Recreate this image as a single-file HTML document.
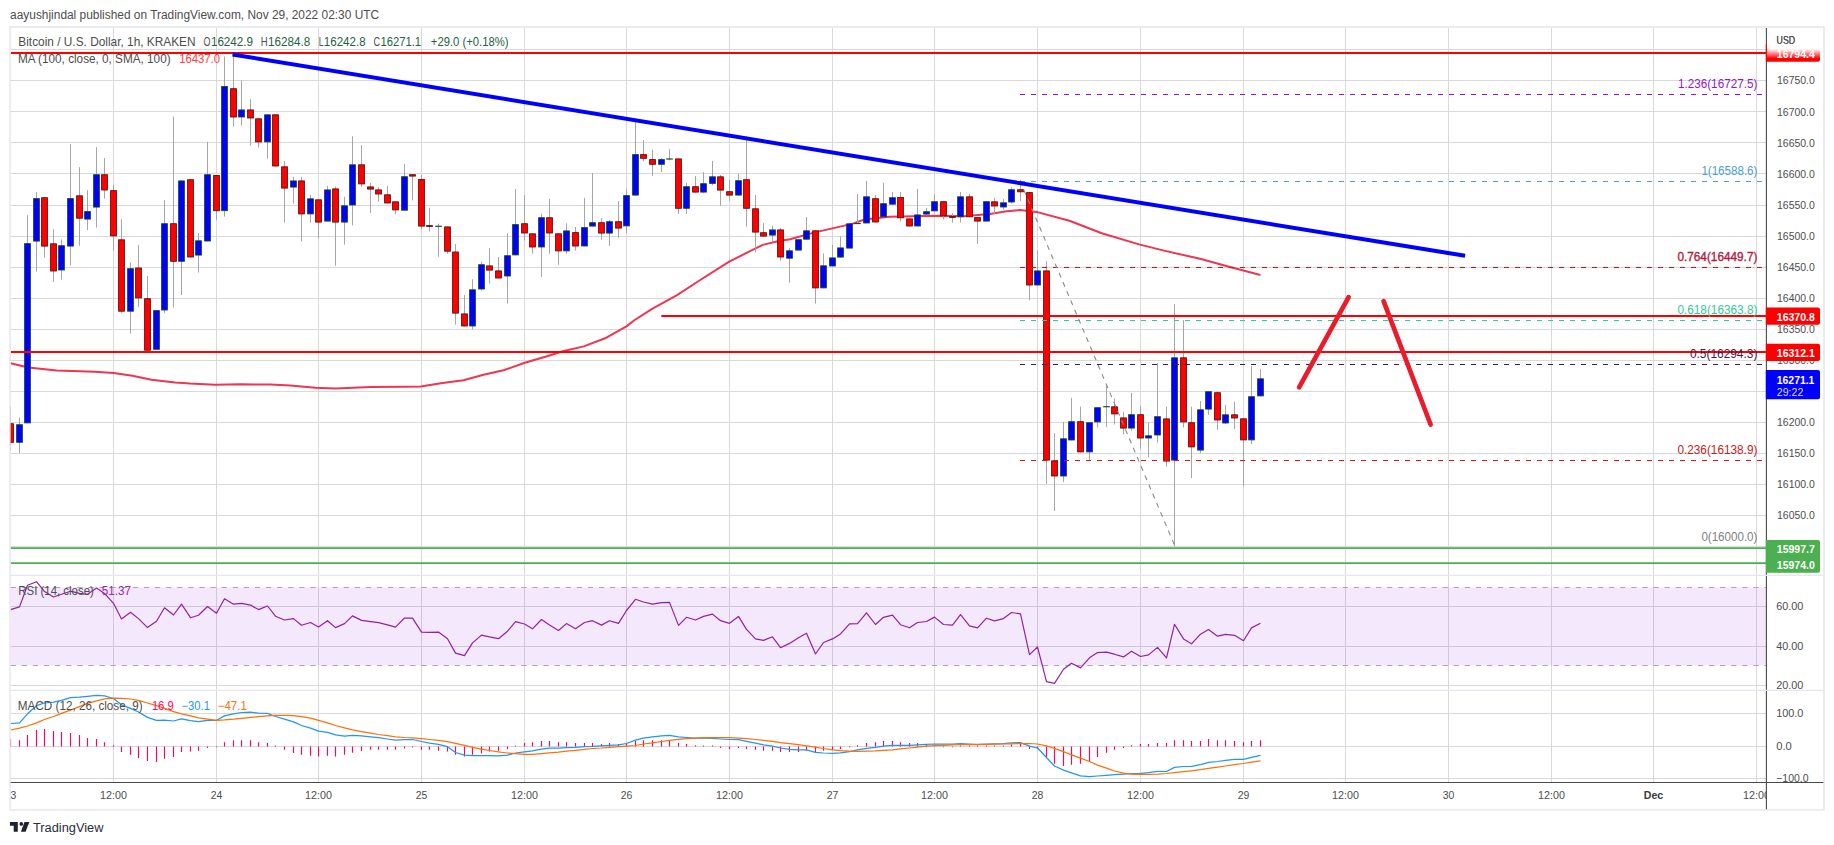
<!DOCTYPE html>
<html lang="en"><head><meta charset="utf-8"><title>BTCUSD chart - TradingView</title>
<style>html,body{margin:0;padding:0;background:#fff}body{width:1834px;height:845px;overflow:hidden}svg{display:block}</style></head>
<body>
<svg width="1834" height="845" viewBox="0 0 1834 845" font-family='"Liberation Sans", sans-serif' shape-rendering="auto">
<defs>
<clipPath id="cp"><rect x="10.7" y="27.9" width="1755.7" height="547.5"/></clipPath>
<clipPath id="cr"><rect x="10.7" y="575.4" width="1755.7" height="115.0"/></clipPath>
<clipPath id="cm"><rect x="10.7" y="690.4" width="1755.7" height="92.10000000000002"/></clipPath>
<clipPath id="ct"><rect x="10.7" y="782.5" width="1755.7" height="26.799999999999955"/></clipPath>
<clipPath id="ca"><rect x="1766.4" y="27.9" width="57.0" height="754.6"/></clipPath>
<linearGradient id="fade" x1="0" y1="0" x2="0" y2="1"><stop offset="0" stop-color="#fff" stop-opacity="1"/><stop offset="0.38" stop-color="#fff" stop-opacity="1"/><stop offset="1" stop-color="#fff" stop-opacity="0"/></linearGradient>
</defs>
<rect width="1834" height="845" fill="#fff"/>
<rect x="10.1" y="27" width="1813.9" height="782.9" fill="#fff" stroke="#ebecf3" stroke-width="1.9"/>
<path d="M113.5 27.9V782.5M216.5 27.9V782.5M318.5 27.9V782.5M421.5 27.9V782.5M524.5 27.9V782.5M626.5 27.9V782.5M729.5 27.9V782.5M832.5 27.9V782.5M934.5 27.9V782.5M1037.5 27.9V782.5M1140.5 27.9V782.5M1243.5 27.9V782.5M1345.5 27.9V782.5M1448.5 27.9V782.5M1551.5 27.9V782.5M1653.5 27.9V782.5M1756.5 27.9V782.5M10.7 546.5H1766.4M10.7 515.5H1766.4M10.7 484.5H1766.4M10.7 453.5H1766.4M10.7 422.5H1766.4M10.7 391.5H1766.4M10.7 360.5H1766.4M10.7 329.5H1766.4M10.7 298.5H1766.4M10.7 267.5H1766.4M10.7 236.5H1766.4M10.7 205.5H1766.4M10.7 173.5H1766.4M10.7 142.5H1766.4M10.7 111.5H1766.4M10.7 80.5H1766.4M10.7 49.5H1766.4M10.7 606.5H1766.4M10.7 646.5H1766.4M10.7 685.5H1766.4M10.7 713.5H1766.4M10.7 746.5H1766.4M10.7 778.5H1766.4" stroke="#d9d9d9" stroke-width="1" fill="none"/>
<g clip-path="url(#cp)">
<polyline points="10.6,363.2 28.4,367.5 56.8,370.5 94.7,371.7 113.6,372.9 132.5,375.7 151.5,379.8 175.1,382.4 190.0,383.6 215.1,384.8 240.2,384.3 270.3,384.6 290.3,385.6 315.4,387.8 335.5,388.6 353.0,387.8 370.6,387.1 403.2,386.8 420.8,386.6 440.8,383.3 463.4,380.3 483.5,374.8 503.5,370.3 524.8,362.7 546.2,356.5 563.7,351.0 583.8,346.4 606.4,337.7 626.4,326.4 634.7,320.0 652.1,308.8 677.0,295.1 701.8,279.0 729.2,261.6 749.0,251.7 762.7,244.9 778.9,241.0 790.0,239.3 814.9,232.4 852.1,223.9 864.6,219.5 889.4,216.7 939.1,215.7 964.0,216.2 983.8,214.5 990.0,214.1 1004.9,211.4 1019.8,210.1 1037.2,212.1 1069.5,220.8 1101.8,233.3 1139.1,244.4 1164.0,250.6 1200.0,258.8 1230.0,267.0 1260.4,275.0" stroke="#ee3552" stroke-width="2" fill="none" stroke-linejoin="round"/>
<path d="M10.5 406.5V450.8M19.5 417.6V453.1M27.5 215.3V423.3M36.5 192.0V271.6M44.5 197.3V257.6M53.5 229.2V282.0M61.5 239.4V279.6M70.5 144.0V265.4M79.5 167.2V245.8M87.5 190.2V230.0M96.5 147.1V227.6M104.5 158.0V198.7M113.5 185.0V250.8M121.5 219.3V312.8M130.5 262.4V333.6M138.5 245.1V306.9M147.5 276.1V350.6M156.5 310.2V349.7M164.5 200.1V312.8M173.5 116.6V307.6M181.5 180.5V295.0M190.5 179.3V257.4M198.5 233.0V272.5M207.5 142.0V241.4M216.5 175.1V219.8M224.5 56.6V216.6M233.5 53.2V126.6M241.5 80.4V125.6M250.5 99.3V145.7M258.5 118.4V147.5M267.5 114.4V158.7M275.5 114.4V166.4M284.5 161.1V222.8M293.5 176.8V203.6M301.5 176.8V241.4M310.5 194.9V222.8M318.5 199.4V238.4M327.5 186.0V221.5M335.5 186.7V265.8M344.5 196.7V244.6M352.5 136.3V225.3M361.5 145.2V186.7M370.5 183.0V212.8M378.5 187.2V201.6M387.5 186.0V203.4M395.5 201.4V214.1M404.5 164.1V210.6M412.5 174.3V200.4M421.5 174.8V229.5M429.5 207.8V231.5M438.5 223.7V256.8M447.5 226.5V253.8M455.5 243.9V324.6M464.5 295.1V326.4M472.5 279.2V329.6M481.5 261.8V290.8M489.5 248.1V283.6M498.5 257.0V278.4M507.5 233.2V303.5M515.5 189.0V255.3M524.5 195.2V240.6M532.5 233.4V253.8M541.5 213.8V276.7M549.5 199.1V253.8M558.5 233.4V264.8M566.5 223.3V253.8M575.5 227.0V250.6M584.5 197.9V246.4M592.5 173.1V226.5M601.5 218.1V239.7M609.5 220.0V245.9M618.5 201.0V238.0M626.5 189.0V233.0M635.5 118.7V195.5M643.5 140.1V160.9M652.5 149.8V175.9M661.5 158.0V172.1M669.5 149.0V160.4M678.5 158.5V213.9M686.5 182.8V213.9M695.5 175.9V192.5M703.5 172.1V193.3M712.5 160.9V185.3M720.5 175.0V205.7M729.5 180.1V200.7M738.5 173.9V195.5M746.5 136.1V226.8M755.5 195.0V252.4M763.5 223.1V236.5M772.5 225.6V241.7M780.5 228.0V260.8M789.5 247.9V282.7M798.5 239.3V250.5M806.5 217.0V239.6M815.5 230.4V303.5M823.5 253.5V288.3M832.5 244.8V266.4M840.5 236.4V257.5M849.5 223.4V248.5M857.5 193.9V224.0M866.5 180.9V223.4M875.5 195.1V222.4M883.5 182.7V217.2M892.5 192.1V204.6M900.5 192.1V221.5M909.5 218.5V226.4M917.5 188.9V226.4M926.5 207.8V215.7M934.5 194.6V211.3M943.5 201.3V219.5M952.5 213.3V222.7M960.5 192.1V222.7M969.5 193.9V217.2M977.5 217.2V243.8M986.5 201.3V221.5M994.5 197.9V214.0M1003.5 199.0V209.6M1011.5 187.3V203.4M1020.5 179.8V201.0M1029.5 192.2V300.3M1037.5 250.6V285.4M1046.5 261.1V484.1M1054.5 433.2V511.0M1063.5 422.0V482.1M1071.5 397.9V440.4M1080.5 406.6V452.3M1089.5 422.3V460.0M1097.5 407.3V427.5M1106.5 384.7V427.0M1114.5 398.4V424.5M1123.5 412.1V434.4M1131.5 392.9V430.7M1140.5 405.9V448.6M1148.5 422.5V457.5M1157.5 363.1V442.6M1166.5 406.6V466.7M1174.5 304.1V546.3M1183.5 320.2V427.5M1191.5 406.7V478.0M1200.5 401.0V453.2M1208.5 391.3V414.9M1217.5 391.3V429.9M1225.5 405.0V424.0M1234.5 401.8V429.1M1243.5 418.4V486.3M1251.5 366.2V444.0M1260.5 369.0V396.3" stroke="#a6a6a6" stroke-width="1" fill="none"/>
<rect x="7.60" y="423.7" width="5.8" height="18.6" fill="#ff0000" stroke="#5c0a08" stroke-width="0.85"/><rect x="16.60" y="424.7" width="5.8" height="17.6" fill="#0000ff" stroke="#174a1e" stroke-width="0.85"/><rect x="24.60" y="243.6" width="5.8" height="179.3" fill="#0000ff" stroke="#174a1e" stroke-width="0.85"/><rect x="33.60" y="198.6" width="5.8" height="42.5" fill="#0000ff" stroke="#174a1e" stroke-width="0.85"/><rect x="41.60" y="197.7" width="5.8" height="48.4" fill="#ff0000" stroke="#5c0a08" stroke-width="0.85"/><rect x="50.60" y="243.8" width="5.8" height="27.2" fill="#ff0000" stroke="#5c0a08" stroke-width="0.85"/><rect x="58.60" y="245.7" width="5.8" height="24.3" fill="#0000ff" stroke="#174a1e" stroke-width="0.85"/><rect x="67.60" y="198.6" width="5.8" height="47.5" fill="#0000ff" stroke="#174a1e" stroke-width="0.85"/><rect x="76.60" y="195.8" width="5.8" height="22.4" fill="#ff0000" stroke="#5c0a08" stroke-width="0.85"/><rect x="84.60" y="211.6" width="5.8" height="7.5" fill="#0000ff" stroke="#174a1e" stroke-width="0.85"/><rect x="93.60" y="174.7" width="5.8" height="32.4" fill="#0000ff" stroke="#174a1e" stroke-width="0.85"/><rect x="101.60" y="174.7" width="5.8" height="15.3" fill="#ff0000" stroke="#5c0a08" stroke-width="0.85"/><rect x="110.60" y="190.6" width="5.8" height="45.3" fill="#ff0000" stroke="#5c0a08" stroke-width="0.85"/><rect x="118.60" y="239.8" width="5.8" height="71.4" fill="#ff0000" stroke="#5c0a08" stroke-width="0.85"/><rect x="127.60" y="268.7" width="5.8" height="42.5" fill="#0000ff" stroke="#174a1e" stroke-width="0.85"/><rect x="135.60" y="268.0" width="5.8" height="29.9" fill="#ff0000" stroke="#5c0a08" stroke-width="0.85"/><rect x="144.60" y="298.7" width="5.8" height="51.5" fill="#ff0000" stroke="#5c0a08" stroke-width="0.85"/><rect x="153.60" y="310.6" width="5.8" height="38.7" fill="#0000ff" stroke="#174a1e" stroke-width="0.85"/><rect x="161.60" y="223.7" width="5.8" height="86.3" fill="#0000ff" stroke="#174a1e" stroke-width="0.85"/><rect x="170.60" y="223.7" width="5.8" height="37.6" fill="#ff0000" stroke="#5c0a08" stroke-width="0.85"/><rect x="178.60" y="180.9" width="5.8" height="80.4" fill="#0000ff" stroke="#174a1e" stroke-width="0.85"/><rect x="187.60" y="179.7" width="5.8" height="77.3" fill="#ff0000" stroke="#5c0a08" stroke-width="0.85"/><rect x="195.60" y="240.8" width="5.8" height="14.3" fill="#0000ff" stroke="#174a1e" stroke-width="0.85"/><rect x="204.60" y="174.7" width="5.8" height="66.3" fill="#0000ff" stroke="#174a1e" stroke-width="0.85"/><rect x="213.60" y="175.5" width="5.8" height="35.2" fill="#ff0000" stroke="#5c0a08" stroke-width="0.85"/><rect x="221.60" y="86.5" width="5.8" height="124.2" fill="#0000ff" stroke="#174a1e" stroke-width="0.85"/><rect x="230.60" y="88.7" width="5.8" height="28.3" fill="#ff0000" stroke="#5c0a08" stroke-width="0.85"/><rect x="238.60" y="109.9" width="5.8" height="7.1" fill="#0000ff" stroke="#174a1e" stroke-width="0.85"/><rect x="247.60" y="109.9" width="5.8" height="8.1" fill="#ff0000" stroke="#5c0a08" stroke-width="0.85"/><rect x="255.60" y="118.8" width="5.8" height="23.1" fill="#ff0000" stroke="#5c0a08" stroke-width="0.85"/><rect x="264.60" y="114.8" width="5.8" height="27.1" fill="#0000ff" stroke="#174a1e" stroke-width="0.85"/><rect x="272.60" y="114.8" width="5.8" height="51.2" fill="#ff0000" stroke="#5c0a08" stroke-width="0.85"/><rect x="281.60" y="166.8" width="5.8" height="21.3" fill="#ff0000" stroke="#5c0a08" stroke-width="0.85"/><rect x="290.60" y="180.9" width="5.8" height="6.2" fill="#0000ff" stroke="#174a1e" stroke-width="0.85"/><rect x="298.60" y="180.9" width="5.8" height="33.0" fill="#ff0000" stroke="#5c0a08" stroke-width="0.85"/><rect x="307.60" y="198.8" width="5.8" height="15.1" fill="#0000ff" stroke="#174a1e" stroke-width="0.85"/><rect x="315.60" y="199.8" width="5.8" height="22.3" fill="#ff0000" stroke="#5c0a08" stroke-width="0.85"/><rect x="324.60" y="189.9" width="5.8" height="31.2" fill="#0000ff" stroke="#174a1e" stroke-width="0.85"/><rect x="332.60" y="188.9" width="5.8" height="33.2" fill="#ff0000" stroke="#5c0a08" stroke-width="0.85"/><rect x="341.60" y="205.8" width="5.8" height="16.3" fill="#0000ff" stroke="#174a1e" stroke-width="0.85"/><rect x="349.60" y="164.8" width="5.8" height="40.2" fill="#0000ff" stroke="#174a1e" stroke-width="0.85"/><rect x="358.60" y="164.8" width="5.8" height="19.1" fill="#ff0000" stroke="#5c0a08" stroke-width="0.85"/><rect x="367.60" y="186.9" width="5.8" height="2.2" fill="#ff0000" stroke="#5c0a08" stroke-width="0.85"/><rect x="375.60" y="189.9" width="5.8" height="4.1" fill="#ff0000" stroke="#5c0a08" stroke-width="0.85"/><rect x="384.60" y="194.8" width="5.8" height="8.2" fill="#ff0000" stroke="#5c0a08" stroke-width="0.85"/><rect x="392.60" y="201.8" width="5.8" height="8.1" fill="#ff0000" stroke="#5c0a08" stroke-width="0.85"/><rect x="401.60" y="176.7" width="5.8" height="33.5" fill="#0000ff" stroke="#174a1e" stroke-width="0.85"/><rect x="409.60" y="174.7" width="5.8" height="1.4" fill="#ff0000" stroke="#5c0a08" stroke-width="0.85"/><rect x="418.60" y="179.4" width="5.8" height="46.7" fill="#ff0000" stroke="#5c0a08" stroke-width="0.85"/><rect x="426.60" y="225.6" width="5.8" height="0.8" fill="#ff0000" stroke="#5c0a08" stroke-width="0.85"/><rect x="435.20" y="225.7" width="6.6" height="1.2" fill="#1d4d2b"/><rect x="444.60" y="226.9" width="5.8" height="24.3" fill="#ff0000" stroke="#5c0a08" stroke-width="0.85"/><rect x="452.60" y="252.0" width="5.8" height="61.1" fill="#ff0000" stroke="#5c0a08" stroke-width="0.85"/><rect x="461.60" y="313.9" width="5.8" height="12.1" fill="#ff0000" stroke="#5c0a08" stroke-width="0.85"/><rect x="469.60" y="289.8" width="5.8" height="36.2" fill="#0000ff" stroke="#174a1e" stroke-width="0.85"/><rect x="478.60" y="264.7" width="5.8" height="24.3" fill="#0000ff" stroke="#174a1e" stroke-width="0.85"/><rect x="486.60" y="265.9" width="5.8" height="4.2" fill="#ff0000" stroke="#5c0a08" stroke-width="0.85"/><rect x="495.60" y="270.9" width="5.8" height="7.1" fill="#ff0000" stroke="#5c0a08" stroke-width="0.85"/><rect x="504.60" y="255.7" width="5.8" height="20.3" fill="#0000ff" stroke="#174a1e" stroke-width="0.85"/><rect x="512.60" y="224.6" width="5.8" height="30.3" fill="#0000ff" stroke="#174a1e" stroke-width="0.85"/><rect x="521.60" y="223.7" width="5.8" height="9.3" fill="#ff0000" stroke="#5c0a08" stroke-width="0.85"/><rect x="529.60" y="233.8" width="5.8" height="13.2" fill="#ff0000" stroke="#5c0a08" stroke-width="0.85"/><rect x="538.60" y="217.7" width="5.8" height="29.3" fill="#0000ff" stroke="#174a1e" stroke-width="0.85"/><rect x="546.60" y="217.7" width="5.8" height="15.3" fill="#ff0000" stroke="#5c0a08" stroke-width="0.85"/><rect x="555.60" y="233.8" width="5.8" height="17.1" fill="#ff0000" stroke="#5c0a08" stroke-width="0.85"/><rect x="563.60" y="230.9" width="5.8" height="20.0" fill="#0000ff" stroke="#174a1e" stroke-width="0.85"/><rect x="572.60" y="232.6" width="5.8" height="13.4" fill="#ff0000" stroke="#5c0a08" stroke-width="0.85"/><rect x="581.60" y="227.6" width="5.8" height="18.4" fill="#0000ff" stroke="#174a1e" stroke-width="0.85"/><rect x="589.60" y="222.7" width="5.8" height="3.4" fill="#0000ff" stroke="#174a1e" stroke-width="0.85"/><rect x="598.60" y="222.7" width="5.8" height="10.4" fill="#ff0000" stroke="#5c0a08" stroke-width="0.85"/><rect x="606.60" y="221.7" width="5.8" height="11.4" fill="#0000ff" stroke="#174a1e" stroke-width="0.85"/><rect x="615.60" y="221.7" width="5.8" height="6.4" fill="#ff0000" stroke="#5c0a08" stroke-width="0.85"/><rect x="623.60" y="195.6" width="5.8" height="30.3" fill="#0000ff" stroke="#174a1e" stroke-width="0.85"/><rect x="632.60" y="154.6" width="5.8" height="40.5" fill="#0000ff" stroke="#174a1e" stroke-width="0.85"/><rect x="640.60" y="154.6" width="5.8" height="3.7" fill="#ff0000" stroke="#5c0a08" stroke-width="0.85"/><rect x="649.60" y="159.6" width="5.8" height="4.7" fill="#ff0000" stroke="#5c0a08" stroke-width="0.85"/><rect x="658.60" y="159.6" width="5.8" height="4.7" fill="#0000ff" stroke="#174a1e" stroke-width="0.85"/><rect x="666.20" y="158.4" width="6.6" height="1.2" fill="#1d4d2b"/><rect x="675.60" y="158.9" width="5.8" height="49.4" fill="#ff0000" stroke="#5c0a08" stroke-width="0.85"/><rect x="683.60" y="186.7" width="5.8" height="21.6" fill="#0000ff" stroke="#174a1e" stroke-width="0.85"/><rect x="692.60" y="186.7" width="5.8" height="5.4" fill="#ff0000" stroke="#5c0a08" stroke-width="0.85"/><rect x="700.60" y="183.7" width="5.8" height="8.4" fill="#0000ff" stroke="#174a1e" stroke-width="0.85"/><rect x="709.60" y="176.8" width="5.8" height="6.6" fill="#0000ff" stroke="#174a1e" stroke-width="0.85"/><rect x="717.60" y="176.8" width="5.8" height="13.3" fill="#ff0000" stroke="#5c0a08" stroke-width="0.85"/><rect x="726.60" y="191.7" width="5.8" height="3.4" fill="#ff0000" stroke="#5c0a08" stroke-width="0.85"/><rect x="735.60" y="180.7" width="5.8" height="14.4" fill="#0000ff" stroke="#174a1e" stroke-width="0.85"/><rect x="743.60" y="179.7" width="5.8" height="28.6" fill="#ff0000" stroke="#5c0a08" stroke-width="0.85"/><rect x="752.60" y="208.8" width="5.8" height="23.3" fill="#ff0000" stroke="#5c0a08" stroke-width="0.85"/><rect x="760.60" y="232.7" width="5.8" height="3.4" fill="#ff0000" stroke="#5c0a08" stroke-width="0.85"/><rect x="769.60" y="229.9" width="5.8" height="5.2" fill="#0000ff" stroke="#174a1e" stroke-width="0.85"/><rect x="777.60" y="229.9" width="5.8" height="27.1" fill="#ff0000" stroke="#5c0a08" stroke-width="0.85"/><rect x="786.60" y="250.8" width="5.8" height="7.4" fill="#0000ff" stroke="#174a1e" stroke-width="0.85"/><rect x="795.60" y="239.7" width="5.8" height="10.4" fill="#0000ff" stroke="#174a1e" stroke-width="0.85"/><rect x="803.60" y="230.8" width="5.8" height="8.4" fill="#0000ff" stroke="#174a1e" stroke-width="0.85"/><rect x="812.60" y="230.8" width="5.8" height="57.1" fill="#ff0000" stroke="#5c0a08" stroke-width="0.85"/><rect x="820.60" y="265.8" width="5.8" height="22.1" fill="#0000ff" stroke="#174a1e" stroke-width="0.85"/><rect x="829.60" y="257.9" width="5.8" height="8.1" fill="#0000ff" stroke="#174a1e" stroke-width="0.85"/><rect x="837.60" y="247.9" width="5.8" height="9.2" fill="#0000ff" stroke="#174a1e" stroke-width="0.85"/><rect x="846.60" y="223.8" width="5.8" height="24.3" fill="#0000ff" stroke="#174a1e" stroke-width="0.85"/><rect x="854.20" y="222.9" width="6.6" height="1.2" fill="#1d4d2b"/><rect x="863.60" y="196.8" width="5.8" height="26.2" fill="#0000ff" stroke="#174a1e" stroke-width="0.85"/><rect x="872.60" y="198.7" width="5.8" height="23.3" fill="#ff0000" stroke="#5c0a08" stroke-width="0.85"/><rect x="880.60" y="203.7" width="5.8" height="13.1" fill="#0000ff" stroke="#174a1e" stroke-width="0.85"/><rect x="889.60" y="197.7" width="5.8" height="6.5" fill="#0000ff" stroke="#174a1e" stroke-width="0.85"/><rect x="897.60" y="197.5" width="5.8" height="20.3" fill="#ff0000" stroke="#5c0a08" stroke-width="0.85"/><rect x="906.60" y="218.9" width="5.8" height="7.1" fill="#ff0000" stroke="#5c0a08" stroke-width="0.85"/><rect x="914.60" y="214.9" width="5.8" height="11.1" fill="#0000ff" stroke="#174a1e" stroke-width="0.85"/><rect x="923.60" y="211.7" width="5.8" height="2.4" fill="#0000ff" stroke="#174a1e" stroke-width="0.85"/><rect x="931.60" y="201.7" width="5.8" height="9.2" fill="#0000ff" stroke="#174a1e" stroke-width="0.85"/><rect x="940.60" y="201.7" width="5.8" height="14.1" fill="#ff0000" stroke="#5c0a08" stroke-width="0.85"/><rect x="949.60" y="216.6" width="5.8" height="0.8" fill="#ff0000" stroke="#5c0a08" stroke-width="0.85"/><rect x="957.60" y="196.8" width="5.8" height="20.0" fill="#0000ff" stroke="#174a1e" stroke-width="0.85"/><rect x="966.60" y="196.8" width="5.8" height="20.0" fill="#ff0000" stroke="#5c0a08" stroke-width="0.85"/><rect x="974.60" y="217.6" width="5.8" height="3.5" fill="#ff0000" stroke="#5c0a08" stroke-width="0.85"/><rect x="983.60" y="201.7" width="5.8" height="19.4" fill="#0000ff" stroke="#174a1e" stroke-width="0.85"/><rect x="991.60" y="201.8" width="5.8" height="4.2" fill="#ff0000" stroke="#5c0a08" stroke-width="0.85"/><rect x="1000.60" y="202.8" width="5.8" height="4.2" fill="#0000ff" stroke="#174a1e" stroke-width="0.85"/><rect x="1008.60" y="189.7" width="5.8" height="12.3" fill="#0000ff" stroke="#174a1e" stroke-width="0.85"/><rect x="1017.60" y="189.7" width="5.8" height="2.1" fill="#ff0000" stroke="#5c0a08" stroke-width="0.85"/><rect x="1026.60" y="192.6" width="5.8" height="92.4" fill="#ff0000" stroke="#5c0a08" stroke-width="0.85"/><rect x="1034.60" y="270.9" width="5.8" height="14.1" fill="#0000ff" stroke="#174a1e" stroke-width="0.85"/><rect x="1043.60" y="270.9" width="5.8" height="189.2" fill="#ff0000" stroke="#5c0a08" stroke-width="0.85"/><rect x="1051.60" y="460.9" width="5.8" height="15.1" fill="#ff0000" stroke="#5c0a08" stroke-width="0.85"/><rect x="1060.60" y="438.8" width="5.8" height="37.2" fill="#0000ff" stroke="#174a1e" stroke-width="0.85"/><rect x="1068.60" y="421.7" width="5.8" height="18.3" fill="#0000ff" stroke="#174a1e" stroke-width="0.85"/><rect x="1077.60" y="421.7" width="5.8" height="30.2" fill="#ff0000" stroke="#5c0a08" stroke-width="0.85"/><rect x="1086.60" y="422.7" width="5.8" height="29.2" fill="#0000ff" stroke="#174a1e" stroke-width="0.85"/><rect x="1094.60" y="407.7" width="5.8" height="14.2" fill="#0000ff" stroke="#174a1e" stroke-width="0.85"/><rect x="1103.20" y="406.1" width="6.6" height="1.2" fill="#1d4d2b"/><rect x="1111.60" y="406.8" width="5.8" height="7.1" fill="#ff0000" stroke="#5c0a08" stroke-width="0.85"/><rect x="1120.60" y="417.9" width="5.8" height="10.2" fill="#ff0000" stroke="#5c0a08" stroke-width="0.85"/><rect x="1128.60" y="414.7" width="5.8" height="13.4" fill="#0000ff" stroke="#174a1e" stroke-width="0.85"/><rect x="1137.60" y="414.7" width="5.8" height="23.3" fill="#ff0000" stroke="#5c0a08" stroke-width="0.85"/><rect x="1145.60" y="435.8" width="5.8" height="2.2" fill="#0000ff" stroke="#174a1e" stroke-width="0.85"/><rect x="1154.60" y="416.7" width="5.8" height="18.3" fill="#0000ff" stroke="#174a1e" stroke-width="0.85"/><rect x="1163.60" y="418.9" width="5.8" height="42.2" fill="#ff0000" stroke="#5c0a08" stroke-width="0.85"/><rect x="1171.60" y="357.8" width="5.8" height="102.3" fill="#0000ff" stroke="#174a1e" stroke-width="0.85"/><rect x="1180.60" y="357.8" width="5.8" height="64.1" fill="#ff0000" stroke="#5c0a08" stroke-width="0.85"/><rect x="1188.60" y="422.7" width="5.8" height="24.2" fill="#ff0000" stroke="#5c0a08" stroke-width="0.85"/><rect x="1197.60" y="409.8" width="5.8" height="40.3" fill="#0000ff" stroke="#174a1e" stroke-width="0.85"/><rect x="1205.60" y="391.7" width="5.8" height="17.4" fill="#0000ff" stroke="#174a1e" stroke-width="0.85"/><rect x="1214.60" y="392.7" width="5.8" height="27.3" fill="#ff0000" stroke="#5c0a08" stroke-width="0.85"/><rect x="1222.60" y="414.8" width="5.8" height="8.2" fill="#0000ff" stroke="#174a1e" stroke-width="0.85"/><rect x="1231.60" y="414.8" width="5.8" height="3.2" fill="#ff0000" stroke="#5c0a08" stroke-width="0.85"/><rect x="1240.60" y="418.8" width="5.8" height="21.1" fill="#ff0000" stroke="#5c0a08" stroke-width="0.85"/><rect x="1248.60" y="396.7" width="5.8" height="43.2" fill="#0000ff" stroke="#174a1e" stroke-width="0.85"/><rect x="1257.60" y="378.8" width="5.8" height="17.1" fill="#0000ff" stroke="#174a1e" stroke-width="0.85"/>
<path d="M1020 94.5H1764" stroke="#9415cf" stroke-width="1.15" stroke-dasharray="5 6" fill="none"/>
<path d="M1020 181.5H1764" stroke="#4aa0d5" stroke-width="1.15" stroke-dasharray="5 6" fill="none"/>
<path d="M1020 267.5H1764" stroke="#ff0000" stroke-width="1.15" stroke-dasharray="5 6" fill="none"/>
<path d="M1020 320.5H1764" stroke="#2ecc96" stroke-width="1.15" stroke-dasharray="5 6" fill="none"/>
<path d="M1020 364.5H1764" stroke="#4b1941" stroke-width="1.15" stroke-dasharray="5 6" fill="none"/>
<path d="M1020 460.5H1764" stroke="#cc1a1a" stroke-width="1.15" stroke-dasharray="5 6" fill="none"/>
<path d="M1020 180.8L1175 546.3" stroke="#8a8a8a" stroke-width="1.1" stroke-dasharray="5 5" fill="none"/>
<path d="M10.7 53H1766.4M10.7 352H1766.4M661.3 316H1766.4" stroke="#ff0000" stroke-width="2" fill="none"/>
<path d="M10.7 548.1H1766.4M10.7 563.1H1766.4" stroke="#4caf50" stroke-width="1.8" fill="none"/>
<path d="M232.5 54.5L1465.1 255.8" stroke="#0000ff" stroke-width="4" fill="none"/>
<path d="M1299.1 387.3L1348.6 297.1M1383.6 301.1L1430.6 424.5" stroke="#ea1c2c" stroke-width="4.7" stroke-linecap="round" fill="none"/>
<text x="1757.4" y="88.0" font-size="12" fill="#9415cf" text-anchor="end" textLength="79.5" lengthAdjust="spacingAndGlyphs">1.236(16727.5)</text>
<text x="1757.4" y="175.0" font-size="12" fill="#4aa0d5" text-anchor="end" textLength="56" lengthAdjust="spacingAndGlyphs">1(16588.6)</text>
<text x="1757.4" y="261.0" font-size="12" fill="#cf1434" stroke="#a0204a" stroke-width="0.35" text-anchor="end" textLength="80" lengthAdjust="spacingAndGlyphs">0.764(16449.7)</text>
<text x="1757.4" y="314.0" font-size="12" fill="#2ecc96" text-anchor="end" textLength="80" lengthAdjust="spacingAndGlyphs">0.618(16363.8)</text>
<text x="1757.4" y="358.0" font-size="12" fill="#4b1941" text-anchor="end" textLength="67.5" lengthAdjust="spacingAndGlyphs">0.5(16294.3)</text>
<text x="1757.4" y="454.0" font-size="12" fill="#cc1a1a" text-anchor="end" textLength="80" lengthAdjust="spacingAndGlyphs">0.236(16138.9)</text>
<text x="1757.4" y="541.1" font-size="12" fill="#808080" text-anchor="end" textLength="56" lengthAdjust="spacingAndGlyphs">0(16000.0)</text>
</g>
<g clip-path="url(#cr)">
<rect x="10.7" y="587.4" width="1755.7" height="78.1" fill="#9119eb" fill-opacity="0.1"/>
<path d="M10.7 587.4H1766.4M10.7 665.4H1766.4" stroke="#aea3b6" stroke-width="1.05" stroke-dasharray="5.2 5.9" fill="none"/>
<polyline points="10.5,609.6 19.5,606.9 27.5,585.3 36.5,581.7 44.5,591.6 53.5,597.0 61.5,594.3 70.5,591.2 79.5,593.4 87.5,594.3 96.5,588.0 104.5,593.4 113.5,603.3 121.5,618.9 130.5,612.3 138.5,618.6 147.5,627.6 156.5,621.3 164.5,607.8 173.5,615.0 181.5,604.2 190.5,617.7 198.5,615.3 207.5,606.5 216.5,613.2 224.5,598.8 233.5,604.2 241.5,603.3 250.5,605.1 258.5,609.6 267.5,606.0 275.5,616.2 284.5,620.0 293.5,618.6 301.5,625.2 310.5,622.5 318.5,627.0 327.5,620.7 335.5,627.6 344.5,623.6 352.5,615.9 361.5,620.4 370.5,621.6 378.5,622.7 387.5,624.9 395.5,627.2 404.5,618.0 412.5,618.2 421.5,632.1 429.5,632.4 438.5,632.1 447.5,638.7 455.5,653.1 464.5,655.6 472.5,642.9 481.5,635.1 489.5,636.9 498.5,638.7 507.5,631.2 515.5,621.6 524.5,624.0 532.5,628.8 541.5,619.5 549.5,624.9 558.5,630.5 566.5,623.6 575.5,628.7 584.5,622.5 592.5,620.7 601.5,625.1 609.5,620.7 618.5,623.4 626.5,610.5 635.5,599.3 643.5,602.0 652.5,604.2 661.5,602.7 669.5,602.4 678.5,625.4 686.5,617.3 695.5,620.0 703.5,616.4 712.5,614.1 720.5,620.7 729.5,623.3 738.5,616.4 746.5,629.4 755.5,638.9 763.5,640.4 772.5,636.8 780.5,647.7 789.5,643.4 798.5,637.8 806.5,633.2 815.5,654.0 823.5,642.5 832.5,638.9 840.5,633.9 849.5,623.8 857.5,623.6 866.5,612.8 875.5,624.5 883.5,617.3 892.5,615.2 900.5,624.7 909.5,627.8 917.5,622.5 926.5,621.5 934.5,617.1 943.5,624.5 952.5,625.1 960.5,614.6 969.5,625.8 977.5,627.9 986.5,618.2 994.5,620.9 1003.5,618.6 1011.5,612.5 1020.5,613.9 1029.5,654.6 1037.5,647.0 1046.5,681.6 1054.5,683.4 1063.5,669.3 1071.5,663.2 1080.5,667.9 1089.5,657.8 1097.5,652.6 1106.5,652.2 1114.5,654.2 1123.5,656.9 1131.5,651.2 1140.5,656.5 1148.5,654.9 1157.5,647.4 1166.5,657.8 1174.5,624.3 1183.5,638.9 1191.5,643.8 1200.5,634.2 1208.5,629.6 1217.5,636.2 1225.5,634.4 1234.5,635.3 1243.5,640.7 1251.5,627.9 1260.5,623.3" stroke="#9321a3" stroke-width="1.2" fill="none" stroke-linejoin="round"/>
</g>
<g clip-path="url(#cm)">
<path d="M10.5 746.4V739.0M19.5 746.4V740.2M27.5 746.4V735.0M36.5 746.4V730.0M44.5 746.4V729.1M53.5 746.4V731.1M61.5 746.4V732.1M70.5 746.4V733.0M79.5 746.4V735.0M87.5 746.4V738.1M96.5 746.4V739.0M104.5 746.4V742.2M113.5 746.4V745.3M121.5 746.4V751.9M130.5 746.4V754.8M138.5 746.4V757.9M147.5 746.4V760.9M156.5 746.4V762.0M164.5 746.4V758.8M173.5 746.4V757.0M181.5 746.4V751.9M190.5 746.4V751.6M198.5 746.4V750.7M207.5 746.4V748.0M216.5 746.4V747.3M224.5 746.4V742.2M233.5 746.4V740.2M241.5 746.4V740.2M250.5 746.4V740.2M258.5 746.4V742.2M267.5 746.4V743.1M275.5 746.4V745.5M284.5 746.4V749.8M293.5 746.4V753.0M301.5 746.4V754.8M310.5 746.4V755.7M318.5 746.4V756.6M327.5 746.4V755.7M335.5 746.4V756.6M344.5 746.4V754.8M352.5 746.4V752.8M361.5 746.4V750.9M370.5 746.4V749.8M378.5 746.4V749.8M387.5 746.4V749.8M395.5 746.4V749.8M404.5 746.4V748.5M412.5 746.4V747.6M421.5 746.4V749.8M429.5 746.4V749.8M438.5 746.4V750.7M447.5 746.4V751.6M455.5 746.4V754.8M464.5 746.4V756.6M472.5 746.4V754.8M481.5 746.4V753.4M489.5 746.4V751.6M498.5 746.4V750.7M507.5 746.4V748.9M515.5 746.4V745.5M524.5 746.4V743.1M532.5 746.4V742.2M541.5 746.4V741.1M549.5 746.4V741.1M558.5 746.4V742.2M566.5 746.4V742.2M575.5 746.4V743.1M584.5 746.4V743.1M592.5 746.4V743.1M601.5 746.4V744.0M609.5 746.4V743.1M618.5 746.4V744.0M626.5 746.4V743.1M635.5 746.4V741.1M643.5 746.4V740.2M652.5 746.4V740.2M661.5 746.4V740.2M669.5 746.4V740.2M678.5 746.4V743.1M686.5 746.4V744.0M695.5 746.4V745.3M703.5 746.4V745.5M712.5 746.4V745.5M720.5 746.4V748.0M729.5 746.4V748.9M738.5 746.4V748.0M746.5 746.4V748.9M755.5 746.4V749.8M763.5 746.4V750.7M772.5 746.4V750.7M780.5 746.4V751.9M789.5 746.4V751.9M798.5 746.4V751.9M806.5 746.4V750.7M815.5 746.4V752.5M823.5 746.4V750.7M832.5 746.4V749.8M840.5 746.4V748.9M849.5 746.4V747.3M857.5 746.4V745.3M866.5 746.4V743.1M875.5 746.4V742.2M883.5 746.4V741.1M892.5 746.4V741.1M900.5 746.4V742.2M909.5 746.4V743.1M917.5 746.4V743.1M926.5 746.4V744.9M934.5 746.4V745.5M943.5 746.4V747.3M952.5 746.4V747.3M960.5 746.4V745.5M969.5 746.4V745.5M977.5 746.4V745.5M986.5 746.4V745.5M994.5 746.4V745.5M1003.5 746.4V745.5M1011.5 746.4V744.4M1020.5 746.4V743.7M1029.5 746.4V748.9M1037.5 746.4V749.1M1046.5 746.4V757.0M1054.5 746.4V763.8M1063.5 746.4V766.0M1071.5 746.4V764.7M1080.5 746.4V763.8M1089.5 746.4V760.9M1097.5 746.4V757.0M1106.5 746.4V752.8M1114.5 746.4V749.8M1123.5 746.4V748.0M1131.5 746.4V745.3M1140.5 746.4V744.0M1148.5 746.4V744.0M1157.5 746.4V743.1M1166.5 746.4V743.1M1174.5 746.4V740.2M1183.5 746.4V740.2M1191.5 746.4V741.1M1200.5 746.4V741.1M1208.5 746.4V739.0M1217.5 746.4V740.2M1225.5 746.4V740.2M1234.5 746.4V741.1M1243.5 746.4V742.2M1251.5 746.4V741.1M1260.5 746.4V740.2" stroke="#ff0066" stroke-width="1.15" fill="none"/>
<polyline points="10.5,723.5 19.5,722.8 27.5,713.8 36.5,705.7 44.5,703.0 53.5,702.1 61.5,700.3 70.5,697.6 79.5,697.1 87.5,696.3 96.5,695.4 104.5,695.8 113.5,698.5 121.5,704.8 130.5,708.4 138.5,712.0 147.5,717.4 156.5,720.4 164.5,720.1 173.5,721.0 181.5,718.8 190.5,720.6 198.5,721.7 207.5,720.3 216.5,720.3 224.5,715.9 233.5,713.8 241.5,712.5 250.5,712.2 258.5,713.2 267.5,713.4 275.5,716.5 284.5,719.2 293.5,721.9 301.5,725.5 310.5,728.2 318.5,731.2 327.5,732.3 335.5,734.8 344.5,736.1 352.5,735.4 361.5,735.9 370.5,736.8 378.5,737.7 387.5,739.0 395.5,740.2 404.5,739.7 412.5,739.5 421.5,741.5 429.5,743.1 438.5,744.4 447.5,746.7 455.5,752.5 464.5,755.2 472.5,755.7 481.5,755.7 489.5,755.7 498.5,755.9 507.5,755.2 515.5,753.0 524.5,751.8 532.5,750.9 541.5,749.1 549.5,748.2 558.5,748.2 566.5,747.6 575.5,747.4 584.5,746.7 592.5,746.4 601.5,745.8 609.5,745.3 618.5,744.9 626.5,743.5 635.5,740.2 643.5,738.1 652.5,736.8 661.5,735.9 669.5,735.4 678.5,736.8 686.5,737.5 695.5,738.1 703.5,738.1 712.5,738.4 720.5,739.0 729.5,739.5 738.5,739.7 746.5,741.3 755.5,743.1 763.5,744.9 772.5,746.2 780.5,748.0 789.5,749.4 798.5,749.8 806.5,749.8 815.5,752.3 823.5,753.0 832.5,753.4 840.5,752.8 849.5,751.6 857.5,749.8 866.5,748.3 875.5,747.4 883.5,746.2 892.5,745.3 900.5,745.3 909.5,745.3 917.5,744.9 926.5,744.4 934.5,744.0 943.5,744.0 952.5,744.0 960.5,743.7 969.5,744.0 977.5,744.4 986.5,744.0 994.5,743.8 1003.5,743.7 1011.5,742.9 1020.5,742.6 1029.5,746.2 1037.5,748.0 1046.5,757.5 1054.5,766.0 1063.5,770.1 1071.5,772.8 1080.5,775.9 1089.5,776.6 1097.5,776.0 1106.5,775.3 1114.5,774.6 1123.5,774.1 1131.5,773.7 1140.5,773.3 1148.5,772.6 1157.5,771.4 1166.5,771.5 1174.5,767.4 1183.5,766.5 1191.5,766.3 1200.5,764.7 1208.5,762.4 1217.5,761.5 1225.5,760.4 1234.5,759.3 1243.5,759.3 1251.5,757.3 1260.5,755.4" stroke="#2196f3" stroke-width="1.25" fill="none" stroke-linejoin="round"/>
<polyline points="10.5,730.0 19.5,728.2 27.5,726.0 36.5,722.8 44.5,719.5 53.5,716.5 61.5,713.4 70.5,710.2 79.5,706.6 87.5,703.4 96.5,700.8 104.5,698.9 113.5,698.1 121.5,698.3 130.5,699.0 138.5,700.3 147.5,703.0 156.5,705.7 164.5,708.4 173.5,711.6 181.5,713.8 190.5,715.9 198.5,717.9 207.5,719.2 216.5,720.3 224.5,719.9 233.5,719.2 241.5,718.3 250.5,717.4 258.5,716.7 267.5,715.9 275.5,715.4 284.5,715.4 293.5,715.6 301.5,716.7 310.5,718.1 318.5,720.4 327.5,722.8 335.5,725.5 344.5,727.8 352.5,729.8 361.5,731.6 370.5,733.2 378.5,734.5 387.5,735.7 395.5,736.8 404.5,737.5 412.5,737.9 421.5,738.6 429.5,739.5 438.5,740.4 447.5,741.7 455.5,743.3 464.5,745.3 472.5,747.3 481.5,749.1 489.5,750.5 498.5,751.9 507.5,753.0 515.5,753.7 524.5,754.3 532.5,754.3 541.5,753.6 549.5,752.8 558.5,752.1 566.5,751.2 575.5,750.3 584.5,749.4 592.5,748.5 601.5,748.0 609.5,747.3 618.5,746.7 626.5,746.2 635.5,745.5 643.5,744.0 652.5,742.8 661.5,741.5 669.5,740.4 678.5,739.3 686.5,738.6 695.5,738.1 703.5,737.7 712.5,737.5 720.5,737.5 729.5,737.7 738.5,738.1 746.5,738.6 755.5,739.5 763.5,740.4 772.5,741.3 780.5,742.6 789.5,743.7 798.5,744.7 806.5,745.8 815.5,747.1 823.5,748.5 832.5,749.8 840.5,750.7 849.5,751.2 857.5,751.4 866.5,751.2 875.5,750.9 883.5,750.3 892.5,749.8 900.5,748.9 909.5,748.0 917.5,747.1 926.5,746.2 934.5,745.6 943.5,745.3 952.5,744.9 960.5,744.6 969.5,744.6 977.5,744.6 986.5,744.4 994.5,744.2 1003.5,744.0 1011.5,743.8 1020.5,743.5 1029.5,743.5 1037.5,744.0 1046.5,745.8 1054.5,748.3 1063.5,751.6 1071.5,754.8 1080.5,758.2 1089.5,761.5 1097.5,765.1 1106.5,768.1 1114.5,771.0 1123.5,773.2 1131.5,774.1 1140.5,774.4 1148.5,774.4 1157.5,774.1 1166.5,773.5 1174.5,772.6 1183.5,771.7 1191.5,770.8 1200.5,769.6 1208.5,768.3 1217.5,767.2 1225.5,766.0 1234.5,764.7 1243.5,763.5 1251.5,762.2 1260.5,760.9" stroke="#ff6f0a" stroke-width="1.25" fill="none" stroke-linejoin="round"/>
</g>
<text x="10.1" y="18.8" font-size="12" fill="#4d4d4d" textLength="369" lengthAdjust="spacingAndGlyphs">aayushjindal published on TradingView.com, Nov 29, 2022 02:30 UTC</text>
<text x="18.3" y="45.6" font-size="12" fill="#4d4d4d" textLength="177.3" lengthAdjust="spacingAndGlyphs">Bitcoin / U.S. Dollar, 1h, KRAKEN</text>
<text x="203.5" y="45.6" font-size="12" fill="#4d4d4d" textLength="6.9" lengthAdjust="spacingAndGlyphs">O</text>
<text x="210.9" y="45.6" font-size="12" fill="#25613f" textLength="42.2" lengthAdjust="spacingAndGlyphs">16242.9</text>
<text x="260.7" y="45.6" font-size="12" fill="#4d4d4d" textLength="6.9" lengthAdjust="spacingAndGlyphs">H</text>
<text x="268.0" y="45.6" font-size="12" fill="#25613f" textLength="42.2" lengthAdjust="spacingAndGlyphs">16284.8</text>
<text x="318.7" y="45.6" font-size="12" fill="#4d4d4d" textLength="4.8" lengthAdjust="spacingAndGlyphs">L</text>
<text x="323.8" y="45.6" font-size="12" fill="#25613f" textLength="41.8" lengthAdjust="spacingAndGlyphs">16242.8</text>
<text x="373.5" y="45.6" font-size="12" fill="#4d4d4d" textLength="6.6" lengthAdjust="spacingAndGlyphs">C</text>
<text x="380.5" y="45.6" font-size="12" fill="#25613f" textLength="40.6" lengthAdjust="spacingAndGlyphs">16271.1</text>
<text x="430.8" y="45.6" font-size="12" fill="#25613f" textLength="77.7" lengthAdjust="spacingAndGlyphs">+29.0 (+0.18%)</text>
<text x="17.9" y="62.7" font-size="12" fill="#4d4d4d" textLength="152.7" lengthAdjust="spacingAndGlyphs">MA (100, close, 0, SMA, 100)</text>
<text x="179.2" y="62.7" font-size="12" fill="#ff3b45" textLength="40.8" lengthAdjust="spacingAndGlyphs">16437.0</text>
<text x="18.3" y="594.9" font-size="12" fill="#4d4d4d" textLength="75.5" lengthAdjust="spacingAndGlyphs">RSI (14, close)</text>
<text x="101.8" y="594.9" font-size="12" fill="#9c27b0" textLength="29.2" lengthAdjust="spacingAndGlyphs">51.37</text>
<text x="17.8" y="709.9" font-size="12" fill="#4d4d4d" textLength="124.8" lengthAdjust="spacingAndGlyphs">MACD (12, 26, close, 9)</text>
<text x="151.9" y="709.9" font-size="12" fill="#ff0a64" textLength="21.8" lengthAdjust="spacingAndGlyphs">16.9</text>
<text x="181.6" y="709.9" font-size="12" fill="#2196f3" textLength="28.3" lengthAdjust="spacingAndGlyphs">−30.1</text>
<text x="217.7" y="709.9" font-size="12" fill="#ff6f0a" textLength="29.1" lengthAdjust="spacingAndGlyphs">−47.1</text>
<path d="M1766.4 27.9V809.3M10.7 782.5H1823.4" stroke="#4a4a4a" stroke-width="1.1" fill="none"/>
<g clip-path="url(#ca)">
<text x="1777" y="519.4" font-size="11" fill="#4d4d4d" textLength="37.8" lengthAdjust="spacingAndGlyphs">16050.0</text>
<text x="1777" y="488.4" font-size="11" fill="#4d4d4d" textLength="37.8" lengthAdjust="spacingAndGlyphs">16100.0</text>
<text x="1777" y="457.3" font-size="11" fill="#4d4d4d" textLength="37.8" lengthAdjust="spacingAndGlyphs">16150.0</text>
<text x="1777" y="426.2" font-size="11" fill="#4d4d4d" textLength="37.8" lengthAdjust="spacingAndGlyphs">16200.0</text>
<text x="1777" y="395.2" font-size="11" fill="#4d4d4d" textLength="37.8" lengthAdjust="spacingAndGlyphs">16250.0</text>
<text x="1777" y="364.1" font-size="11" fill="#4d4d4d" textLength="37.8" lengthAdjust="spacingAndGlyphs">16300.0</text>
<text x="1777" y="333.0" font-size="11" fill="#4d4d4d" textLength="37.8" lengthAdjust="spacingAndGlyphs">16350.0</text>
<text x="1777" y="301.9" font-size="11" fill="#4d4d4d" textLength="37.8" lengthAdjust="spacingAndGlyphs">16400.0</text>
<text x="1777" y="270.9" font-size="11" fill="#4d4d4d" textLength="37.8" lengthAdjust="spacingAndGlyphs">16450.0</text>
<text x="1777" y="239.8" font-size="11" fill="#4d4d4d" textLength="37.8" lengthAdjust="spacingAndGlyphs">16500.0</text>
<text x="1777" y="208.7" font-size="11" fill="#4d4d4d" textLength="37.8" lengthAdjust="spacingAndGlyphs">16550.0</text>
<text x="1777" y="177.7" font-size="11" fill="#4d4d4d" textLength="37.8" lengthAdjust="spacingAndGlyphs">16600.0</text>
<text x="1777" y="146.6" font-size="11" fill="#4d4d4d" textLength="37.8" lengthAdjust="spacingAndGlyphs">16650.0</text>
<text x="1777" y="115.5" font-size="11" fill="#4d4d4d" textLength="37.8" lengthAdjust="spacingAndGlyphs">16700.0</text>
<text x="1777" y="84.4" font-size="11" fill="#4d4d4d" textLength="37.8" lengthAdjust="spacingAndGlyphs">16750.0</text>
<text x="1776.6" y="43.8" font-size="11" fill="#4d4d4d" textLength="18.5" lengthAdjust="spacingAndGlyphs">USD</text>
<text x="1776.2" y="609.9" font-size="11" fill="#4d4d4d" textLength="27.2" lengthAdjust="spacingAndGlyphs">60.00</text>
<text x="1776.2" y="649.9" font-size="11" fill="#4d4d4d" textLength="27.2" lengthAdjust="spacingAndGlyphs">40.00</text>
<text x="1776.2" y="688.9" font-size="11" fill="#4d4d4d" textLength="27.2" lengthAdjust="spacingAndGlyphs">20.00</text>
<text x="1776.2" y="716.9" font-size="11" fill="#4d4d4d" textLength="27.2" lengthAdjust="spacingAndGlyphs">100.0</text>
<text x="1776.2" y="749.9" font-size="11" fill="#4d4d4d" textLength="15.6" lengthAdjust="spacingAndGlyphs">0.0</text>
<text x="1776.2" y="782.0" font-size="11" fill="#4d4d4d" textLength="32.4" lengthAdjust="spacingAndGlyphs">−100.0</text>
</g>
<path d="M10.7 575.4H1823.8000000000002M10.7 690.4H1823.8000000000002" stroke="#e6e8f0" stroke-width="1.2" fill="none"/>
<path d="M1765.8000000000002 44.6H1818Q1820 44.6 1820 46.6V59.7Q1820 61.7 1818 61.7H1765.8000000000002Z" fill="#ff0000"/>
<text x="1776.8" y="57.6" font-size="11" fill="#fff" fill-opacity="1" font-weight="bold" textLength="38" lengthAdjust="spacingAndGlyphs">16794.4</text>
<rect x="1767.0" y="43" width="55.0" height="15.5" fill="url(#fade)"/>
<text x="1776.6" y="43.8" font-size="11" fill="#4d4d4d" textLength="18.5" lengthAdjust="spacingAndGlyphs">USD</text>
<path d="M1765.8000000000002 307.6H1818Q1820 307.6 1820 309.6V322.7Q1820 324.7 1818 324.7H1765.8000000000002Z" fill="#ff0000"/>
<text x="1776.8" y="321.0" font-size="11" fill="#fff" fill-opacity="1" font-weight="bold" textLength="38" lengthAdjust="spacingAndGlyphs">16370.8</text>
<path d="M1765.8000000000002 343.8H1818Q1820 343.8 1820 345.8V358.9Q1820 360.9 1818 360.9H1765.8000000000002Z" fill="#ff0000"/>
<text x="1776.8" y="357.2" font-size="11" fill="#fff" fill-opacity="1" font-weight="bold" textLength="38" lengthAdjust="spacingAndGlyphs">16312.1</text>
<path d="M1765.8000000000002 370.0H1818Q1820 370.0 1820 372.0V397.2Q1820 399.2 1818 399.2H1765.8000000000002Z" fill="#0000ff"/>
<text x="1776.8" y="383.6" font-size="11" fill="#fff" fill-opacity="1" font-weight="bold" textLength="37.6" lengthAdjust="spacingAndGlyphs">16271.1</text>
<text x="1776.8" y="396.0" font-size="11" fill="#fff" fill-opacity="0.85" font-weight="normal" textLength="26.5" lengthAdjust="spacingAndGlyphs">29:22</text>
<path d="M1765.8000000000002 539.9H1818Q1820 539.9 1820 541.9V570.8Q1820 572.8 1818 572.8H1765.8000000000002Z" fill="#4caf50"/>
<text x="1776.8" y="553.3" font-size="11" fill="#fff" fill-opacity="1" font-weight="bold" textLength="38" lengthAdjust="spacingAndGlyphs">15997.7</text>
<text x="1776.8" y="568.9" font-size="11" fill="#fff" fill-opacity="1" font-weight="bold" textLength="38" lengthAdjust="spacingAndGlyphs">15974.0</text>
<g clip-path="url(#ct)">
<text x="10.5" y="798.9" font-size="11" fill="#4d4d4d" textLength="11.6" lengthAdjust="spacingAndGlyphs" text-anchor="middle">23</text>
<text x="113.5" y="798.9" font-size="11" fill="#4d4d4d" textLength="26.8" lengthAdjust="spacingAndGlyphs" text-anchor="middle">12:00</text>
<text x="216.5" y="798.9" font-size="11" fill="#4d4d4d" textLength="11.6" lengthAdjust="spacingAndGlyphs" text-anchor="middle">24</text>
<text x="318.5" y="798.9" font-size="11" fill="#4d4d4d" textLength="26.8" lengthAdjust="spacingAndGlyphs" text-anchor="middle">12:00</text>
<text x="421.5" y="798.9" font-size="11" fill="#4d4d4d" textLength="11.6" lengthAdjust="spacingAndGlyphs" text-anchor="middle">25</text>
<text x="524.5" y="798.9" font-size="11" fill="#4d4d4d" textLength="26.8" lengthAdjust="spacingAndGlyphs" text-anchor="middle">12:00</text>
<text x="626.5" y="798.9" font-size="11" fill="#4d4d4d" textLength="11.6" lengthAdjust="spacingAndGlyphs" text-anchor="middle">26</text>
<text x="729.5" y="798.9" font-size="11" fill="#4d4d4d" textLength="26.8" lengthAdjust="spacingAndGlyphs" text-anchor="middle">12:00</text>
<text x="832.5" y="798.9" font-size="11" fill="#4d4d4d" textLength="11.6" lengthAdjust="spacingAndGlyphs" text-anchor="middle">27</text>
<text x="934.5" y="798.9" font-size="11" fill="#4d4d4d" textLength="26.8" lengthAdjust="spacingAndGlyphs" text-anchor="middle">12:00</text>
<text x="1037.5" y="798.9" font-size="11" fill="#4d4d4d" textLength="11.6" lengthAdjust="spacingAndGlyphs" text-anchor="middle">28</text>
<text x="1140.5" y="798.9" font-size="11" fill="#4d4d4d" textLength="26.8" lengthAdjust="spacingAndGlyphs" text-anchor="middle">12:00</text>
<text x="1243.5" y="798.9" font-size="11" fill="#4d4d4d" textLength="11.6" lengthAdjust="spacingAndGlyphs" text-anchor="middle">29</text>
<text x="1345.5" y="798.9" font-size="11" fill="#4d4d4d" textLength="26.8" lengthAdjust="spacingAndGlyphs" text-anchor="middle">12:00</text>
<text x="1448.5" y="798.9" font-size="11" fill="#4d4d4d" textLength="11.6" lengthAdjust="spacingAndGlyphs" text-anchor="middle">30</text>
<text x="1551.5" y="798.9" font-size="11" fill="#4d4d4d" textLength="26.8" lengthAdjust="spacingAndGlyphs" text-anchor="middle">12:00</text>
<text x="1653.5" y="798.9" font-size="11" fill="#3a3a3a" textLength="19.5" lengthAdjust="spacingAndGlyphs" font-weight="bold" text-anchor="middle">Dec</text>
<text x="1756.5" y="798.9" font-size="11" fill="#4d4d4d" textLength="26.8" lengthAdjust="spacingAndGlyphs" text-anchor="middle">12:00</text>
</g>
<g fill="#1e222d"><path d="M9.95 822.1H17.8V831.8H13.7V825.7H9.95Z"/><circle cx="21.3" cy="823.95" r="1.85"/><path d="M24.5 822.1H29.3L25.6 831.8H20.9Z"/></g>
<text x="33.0" y="831.6" font-size="12.3" fill="#2a2e39" textLength="70.4" lengthAdjust="spacingAndGlyphs">TradingView</text>
</svg>
</body></html>
